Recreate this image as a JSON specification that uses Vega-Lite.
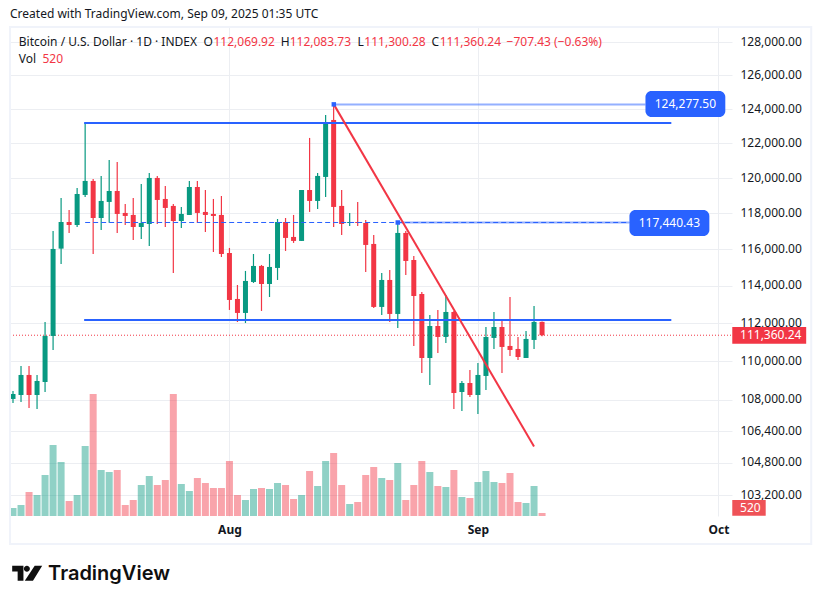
{
  "$schema": "https://vega.github.io/schema/vega-lite/v6.json",
  "width": 722,
  "height": 489,
  "autosize": "none",
  "padding": {"left": 10, "top": 27, "right": 90, "bottom": 88},
  "background": "white",
  "config": {"font": "Noto Sans", "view": {"stroke": null}},
  "title": {
    "text": "Created with TradingView.com, Sep 09, 2025 01:35 UTC",
    "anchor": "start",
    "frame": "group",
    "fontSize": 12,
    "fontWeight": "normal",
    "color": "#131722",
    "offset": 5
  },
  "datasets": {
    "candles": [
      {"date": "2025-07-05", "open": 108037, "high": 108446, "low": 107832, "close": 108292, "volume": 1384},
      {"date": "2025-07-06", "open": 108241, "high": 109745, "low": 107883, "close": 109277, "volume": 1903},
      {"date": "2025-07-07", "open": 109277, "high": 109745, "low": 107576, "close": 108241, "volume": 4152},
      {"date": "2025-07-08", "open": 108241, "high": 109277, "low": 107525, "close": 108965, "volume": 3633},
      {"date": "2025-07-09", "open": 108913, "high": 112063, "low": 108395, "close": 111322, "volume": 7093},
      {"date": "2025-07-10", "open": 111322, "high": 117019, "low": 110583, "close": 116023, "volume": 12283},
      {"date": "2025-07-11", "open": 116041, "high": 118870, "low": 115198, "close": 117519, "volume": 9342},
      {"date": "2025-07-12", "open": 117519, "high": 118194, "low": 116909, "close": 117352, "volume": 2595},
      {"date": "2025-07-13", "open": 117352, "high": 119434, "low": 117241, "close": 119095, "volume": 3633},
      {"date": "2025-07-14", "open": 119039, "high": 123183, "low": 118926, "close": 119835, "volume": 12110},
      {"date": "2025-07-15", "open": 119835, "high": 119949, "low": 115746, "close": 117744, "volume": 21106},
      {"date": "2025-07-16", "open": 117744, "high": 120121, "low": 117075, "close": 118701, "volume": 7958},
      {"date": "2025-07-17", "open": 118645, "high": 121035, "low": 117481, "close": 119264, "volume": 7612},
      {"date": "2025-07-18", "open": 119264, "high": 120921, "low": 116909, "close": 117969, "volume": 7958},
      {"date": "2025-07-19", "open": 118026, "high": 118532, "low": 117352, "close": 117857, "volume": 1903},
      {"date": "2025-07-20", "open": 117913, "high": 118870, "low": 116521, "close": 117241, "volume": 2768},
      {"date": "2025-07-21", "open": 117241, "high": 119663, "low": 116576, "close": 117463, "volume": 5363},
      {"date": "2025-07-22", "open": 117407, "high": 120292, "low": 116189, "close": 120006, "volume": 6920},
      {"date": "2025-07-23", "open": 120006, "high": 120121, "low": 117407, "close": 118757, "volume": 5363},
      {"date": "2025-07-24", "open": 118813, "high": 119549, "low": 117241, "close": 118307, "volume": 6228},
      {"date": "2025-07-25", "open": 118420, "high": 118532, "low": 114707, "close": 117575, "volume": 21106},
      {"date": "2025-07-26", "open": 117575, "high": 118363, "low": 117186, "close": 117969, "volume": 5536},
      {"date": "2025-07-27", "open": 117913, "high": 119835, "low": 117913, "close": 119492, "volume": 4325},
      {"date": "2025-07-28", "open": 119492, "high": 119835, "low": 117463, "close": 118026, "volume": 6574},
      {"date": "2025-07-29", "open": 118082, "high": 119320, "low": 116964, "close": 117913, "volume": 5709},
      {"date": "2025-07-30", "open": 117969, "high": 118813, "low": 115856, "close": 117857, "volume": 4844},
      {"date": "2025-07-31", "open": 117913, "high": 118982, "low": 115580, "close": 115746, "volume": 4844},
      {"date": "2025-08-01", "open": 115801, "high": 116078, "low": 112707, "close": 113243, "volume": 9515},
      {"date": "2025-08-02", "open": 113297, "high": 114053, "low": 112062, "close": 112546, "volume": 3633},
      {"date": "2025-08-03", "open": 112546, "high": 114816, "low": 112009, "close": 114271, "volume": 2768},
      {"date": "2025-08-04", "open": 114216, "high": 115746, "low": 114162, "close": 115089, "volume": 4671},
      {"date": "2025-08-05", "open": 115089, "high": 115143, "low": 112653, "close": 114107, "volume": 4844},
      {"date": "2025-08-06", "open": 114107, "high": 115746, "low": 113404, "close": 115034, "volume": 4671},
      {"date": "2025-08-07", "open": 114980, "high": 117688, "low": 114325, "close": 117519, "volume": 5709},
      {"date": "2025-08-08", "open": 117519, "high": 117744, "low": 115912, "close": 116632, "volume": 5363},
      {"date": "2025-08-09", "open": 116687, "high": 117913, "low": 116355, "close": 116466, "volume": 2941},
      {"date": "2025-08-10", "open": 116466, "high": 119320, "low": 116466, "close": 119320, "volume": 3633},
      {"date": "2025-08-11", "open": 119320, "high": 122311, "low": 118082, "close": 118701, "volume": 7785},
      {"date": "2025-08-12", "open": 118701, "high": 120292, "low": 118251, "close": 120121, "volume": 5190},
      {"date": "2025-08-13", "open": 120063, "high": 123655, "low": 118926, "close": 123242, "volume": 9515},
      {"date": "2025-08-14", "open": 123360, "high": 124277.5, "low": 117241, "close": 118363, "volume": 10900},
      {"date": "2025-08-15", "open": 118420, "high": 119320, "low": 116798, "close": 117407, "volume": 5363},
      {"date": "2025-08-16", "open": 117463, "high": 118026, "low": 117296, "close": 117519, "volume": 2076},
      {"date": "2025-08-17", "open": 117519, "high": 118645, "low": 117296, "close": 117463, "volume": 2422},
      {"date": "2025-08-18", "open": 117463, "high": 117632, "low": 114762, "close": 116244, "volume": 7093},
      {"date": "2025-08-19", "open": 116299, "high": 116798, "low": 112814, "close": 112868, "volume": 8477},
      {"date": "2025-08-20", "open": 112868, "high": 114707, "low": 112438, "close": 114325, "volume": 6574},
      {"date": "2025-08-21", "open": 114325, "high": 114871, "low": 112062, "close": 112492, "volume": 6228},
      {"date": "2025-08-22", "open": 112492, "high": 117463, "low": 111745, "close": 116909, "volume": 9169},
      {"date": "2025-08-23", "open": 116909, "high": 117019, "low": 114598, "close": 115362, "volume": 2768},
      {"date": "2025-08-24", "open": 115416, "high": 115635, "low": 110794, "close": 113458, "volume": 5363},
      {"date": "2025-08-25", "open": 113565, "high": 113673, "low": 109381, "close": 110162, "volume": 9515},
      {"date": "2025-08-26", "open": 110162, "high": 112438, "low": 108757, "close": 111850, "volume": 7612},
      {"date": "2025-08-27", "open": 111850, "high": 112707, "low": 110425, "close": 111269, "volume": 5190},
      {"date": "2025-08-28", "open": 111269, "high": 113512, "low": 110953, "close": 112599, "volume": 5017},
      {"date": "2025-08-29", "open": 112599, "high": 112653, "low": 107525, "close": 108344, "volume": 7958},
      {"date": "2025-08-30", "open": 108395, "high": 108965, "low": 107423, "close": 108861, "volume": 3287},
      {"date": "2025-08-31", "open": 108861, "high": 109537, "low": 108139, "close": 108241, "volume": 3114},
      {"date": "2025-09-01", "open": 108241, "high": 109902, "low": 107269, "close": 109277, "volume": 5882},
      {"date": "2025-09-02", "open": 109225, "high": 111797, "low": 108497, "close": 111269, "volume": 7785},
      {"date": "2025-09-03", "open": 111217, "high": 112599, "low": 110636, "close": 111797, "volume": 5882},
      {"date": "2025-09-04", "open": 111797, "high": 112224, "low": 109381, "close": 110741, "volume": 5709},
      {"date": "2025-09-05", "open": 110794, "high": 113404, "low": 110266, "close": 110583, "volume": 7439},
      {"date": "2025-09-06", "open": 110636, "high": 111269, "low": 110058, "close": 110213, "volume": 2422},
      {"date": "2025-09-07", "open": 110162, "high": 111586, "low": 110162, "close": 111164, "volume": 2249},
      {"date": "2025-09-08", "open": 111111, "high": 112921, "low": 110636, "close": 112067.67, "volume": 5190},
      {"date": "2025-09-09", "open": 112069.92, "high": 112083.73, "low": 111300.28, "close": 111360.24, "volume": 520}
    ],
    "frame": [
      {"date": "2025-07-04T15:01:00Z", "end": "2025-10-12T13:55:00Z", "top": 128934, "bottom": 100837}
    ],
    "drawings": [
      {"line": "high", "date": "2025-07-13T21:00:00Z", "price": 123182},
      {"line": "high", "date": "2025-09-25T03:00:00Z", "price": 123182},
      {"line": "low", "date": "2025-07-13T21:00:00Z", "price": 112168},
      {"line": "low", "date": "2025-09-25T03:00:00Z", "price": 112168},
      {"line": "tag1", "date": "2025-08-14T00:30:00Z", "price": 124277.5},
      {"line": "tag1", "date": "2025-09-21T21:36:00Z", "price": 124277.5},
      {"line": "tag2", "date": "2025-08-22T00:00:00Z", "price": 117491},
      {"line": "tag2", "date": "2025-09-19T21:36:00Z", "price": 117491},
      {"line": "dash", "date": "2025-07-14T00:00:00Z", "price": 117491},
      {"line": "dash", "date": "2025-09-19T21:36:00Z", "price": 117491},
      {"line": "last", "date": "2025-07-04T15:01:00Z", "price": 111360.24},
      {"line": "last", "date": "2025-10-02T16:41:00Z", "price": 111360.24},
      {"line": "trend", "date": "2025-08-14T00:30:00Z", "price": 124277.5},
      {"line": "trend", "date": "2025-09-08T00:00:00Z", "price": 105622}
    ],
    "anchors": [
      {"date": "2025-08-14T00:30:00Z", "price": 124277.5},
      {"date": "2025-08-22T00:00:00Z", "price": 117491}
    ],
    "tags": [
      {"date": "2025-09-21T21:36:00Z", "end": "2025-10-01T20:38:00Z", "top": 125070, "bottom": 123534},
      {"date": "2025-09-19T21:36:00Z", "end": "2025-09-29T20:53:00Z", "top": 118191, "bottom": 116739}
    ],
    "tagText": [
      {"date": "2025-09-26T21:07:00Z", "price": 124277.5, "label": "124,277.50"},
      {"date": "2025-09-24T21:07:00Z", "price": 117440.43, "label": "117,440.43"}
    ],
    "scaleTags": [
      {"date": "2025-10-02T17:31:00Z", "end": "2025-10-11T22:48:00Z", "top": 111797, "bottom": 110912, "kind": "price"},
      {"date": "2025-10-02T17:31:00Z", "end": "2025-10-06T21:36:00Z", "top": 102967, "bottom": 102201, "kind": "volume"}
    ],
    "scaleText": [
      {"date": "2025-10-03T16:48:00Z", "price": 111360.24, "label": "111,360.24"},
      {"date": "2025-10-03T16:48:00Z", "price": 102577, "label": "520"}
    ],
    "header": [
      {"date": "2025-07-05T17:17:00Z", "price": 128037, "label": "Bitcoin / U.S. Dollar · 1D · INDEX", "kind": "name"},
      {"date": "2025-07-28T18:33:00Z", "price": 128037, "label": "O", "kind": "name"},
      {"date": "2025-07-30T00:14:00Z", "price": 128037, "label": "112,069.92", "kind": "value"},
      {"date": "2025-08-07T10:00:00Z", "price": 128037, "label": "H", "kind": "name"},
      {"date": "2025-08-08T12:19:00Z", "price": 128037, "label": "112,083.73", "kind": "value"},
      {"date": "2025-08-16T23:38:00Z", "price": 128037, "label": "L", "kind": "name"},
      {"date": "2025-08-17T19:55:00Z", "price": 128037, "label": "111,300.28", "kind": "value"},
      {"date": "2025-08-26T04:48:00Z", "price": 128037, "label": "C", "kind": "name"},
      {"date": "2025-08-27T05:31:00Z", "price": 128037, "label": "111,360.24", "kind": "value"},
      {"date": "2025-09-04T13:41:00Z", "price": 128037, "label": "−707.43 (−0.63%)", "kind": "value"},
      {"date": "2025-07-05T17:17:00Z", "price": 126988, "label": "Vol", "kind": "name"},
      {"date": "2025-07-08T16:19:00Z", "price": 126988, "label": "520", "kind": "value"}
    ],
    "logoIcon": [{"date": "2025-07-06T18:29:00Z", "price": 99447}],
    "logoText": [{"date": "2025-07-09T09:00:00Z", "price": 99407, "label": "TradingView"}]
  },
  "encoding": {
    "x": {
      "field": "date",
      "type": "temporal",
      "title": null,
      "scale": {
        "type": "utc",
        "padding": 0,
        "domain": [
          {"year": 2025, "month": 7, "date": 4, "hours": 15, "minutes": 1, "utc": true},
          {"year": 2025, "month": 10, "date": 2, "hours": 16, "minutes": 41, "utc": true}
        ]
      },
      "axis": {
        "values": [
          {"year": 2025, "month": 8, "date": 1, "utc": true},
          {"year": 2025, "month": 9, "date": 1, "utc": true},
          {"year": 2025, "month": 10, "date": 1, "utc": true}
        ],
        "format": "%b",
        "domain": false,
        "ticks": false,
        "grid": true,
        "gridColor": "#eceef2",
        "labelPadding": 8,
        "labelFontSize": 12,
        "labelFontWeight": "bold",
        "labelColor": "#131722",
        "labelFlush": false,
        "labelOverlap": false
      }
    }
  },
  "layer": [
    {
      "encoding": {
        "y": {
          "field": "price",
          "type": "quantitative",
          "title": null,
          "scale": {"type": "log", "nice": false, "domain": [102190, 128934]},
          "axis": {
            "orient": "right",
            "values": [103200, 104800, 106400, 108000, 110000, 112000, 114000, 116000, 118000, 120000, 122000, 124000, 126000, 128000],
            "format": ",.2f",
            "domain": false,
            "ticks": false,
            "grid": true,
            "gridColor": "#eceef2",
            "labelPadding": 8,
            "labelOffset": -1,
            "labelFontSize": 12,
            "labelColor": "#131722",
            "labelOverlap": false,
            "labelBound": false
          }
        }
      },
      "layer": [
        {
          "data": {"name": "drawings"},
          "transform": [{"filter": "datum.line == 'last'"}],
          "mark": {"type": "line", "color": "#f23645", "strokeWidth": 1, "strokeDash": [1, 2]}
        }
      ]
    },
    {
      "data": {"name": "candles"},
      "mark": {"type": "bar", "size": 7, "opacity": 0.45},
      "encoding": {
        "y": {
          "field": "volume",
          "type": "quantitative",
          "axis": null,
          "scale": {"domain": [0, 84597]}
        },
        "color": {
          "condition": {"test": "datum.close >= datum.open", "value": "#089981"},
          "value": "#f23645"
        }
      }
    },
    {
      "encoding": {
        "y": {
          "field": "price",
          "type": "quantitative",
          "title": null,
          "scale": {"type": "log", "nice": false, "domain": [102190, 128934]},
          "axis": null
        }
      },
      "layer": [
        {
          "data": {"name": "candles"},
          "mark": {"type": "rule", "strokeWidth": 1.2},
          "encoding": {
            "y": {"field": "low"},
            "y2": {"field": "high"},
            "color": {
              "condition": {"test": "datum.close >= datum.open", "value": "#089981"},
              "value": "#f23645"
            }
          }
        },
        {
          "data": {"name": "candles"},
          "mark": {"type": "bar", "size": 5},
          "encoding": {
            "y": {"field": "open"},
            "y2": {"field": "close"},
            "color": {
              "condition": {"test": "datum.close >= datum.open", "value": "#089981"},
              "value": "#f23645"
            }
          }
        },
        {
          "data": {"name": "frame"},
          "mark": {"type": "rect", "fillOpacity": 0, "stroke": "#f0f3fa", "strokeWidth": 2},
          "encoding": {
            "x2": {"field": "end"},
            "y": {"field": "top"},
            "y2": {"field": "bottom"}
          }
        },
        {
          "data": {"name": "drawings"},
          "transform": [{"filter": "datum.line == 'tag1' || datum.line == 'tag2'"}],
          "mark": {"type": "line", "color": "#2962ff", "strokeWidth": 2, "opacity": 0.5},
          "encoding": {"detail": {"field": "line"}}
        },
        {
          "data": {"name": "drawings"},
          "transform": [{"filter": "datum.line == 'dash'"}],
          "mark": {"type": "line", "color": "#2962ff", "strokeWidth": 1, "strokeDash": [5, 3]}
        },
        {
          "data": {"name": "drawings"},
          "transform": [{"filter": "datum.line == 'high' || datum.line == 'low'"}],
          "mark": {"type": "line", "color": "#2962ff", "strokeWidth": 2},
          "encoding": {"detail": {"field": "line"}}
        },
        {
          "data": {"name": "drawings"},
          "transform": [{"filter": "datum.line == 'trend'"}],
          "mark": {"type": "line", "color": "#f23645", "strokeWidth": 2}
        },
        {
          "data": {"name": "anchors"},
          "mark": {"type": "square", "size": 20, "color": "#2962ff", "opacity": 1}
        },
        {
          "data": {"name": "tags"},
          "mark": {"type": "rect", "color": "#2962ff", "cornerRadius": 6},
          "encoding": {
            "x2": {"field": "end"},
            "y": {"field": "top"},
            "y2": {"field": "bottom"}
          }
        },
        {
          "data": {"name": "tagText"},
          "mark": {"type": "text", "color": "white", "fontSize": 12, "align": "center", "baseline": "middle"},
          "encoding": {"text": {"field": "label"}}
        },
        {
          "data": {"name": "scaleTags"},
          "mark": {"type": "rect"},
          "encoding": {
            "x2": {"field": "end"},
            "y": {"field": "top"},
            "y2": {"field": "bottom"},
            "color": {
              "condition": {"test": "datum.kind == 'price'", "value": "#f23645"},
              "value": "#ef5257"
            }
          }
        },
        {
          "data": {"name": "scaleText"},
          "mark": {"type": "text", "color": "white", "fontSize": 12, "align": "left", "baseline": "middle"},
          "encoding": {"text": {"field": "label"}}
        },
        {
          "data": {"name": "header"},
          "mark": {"type": "text", "fontSize": 12, "align": "left", "baseline": "middle"},
          "encoding": {
            "text": {"field": "label"},
            "color": {
              "condition": {"test": "datum.kind == 'value'", "value": "#f23645"},
              "value": "#131722"
            }
          }
        },
        {
          "data": {"name": "logoIcon"},
          "mark": {
            "type": "point",
            "filled": true,
            "opacity": 1,
            "color": "#0f0f0f",
            "size": 900,
            "shape": "M-1 -.5L-.25 -.5L-.25 .5L-.636 .5L-.636 -.114L-1 -.114ZM-.22 -.295A.2 .2 0 1 1 .18 -.295A.2 .2 0 1 1 -.22 -.295ZM.5 -.5L1 -.5L.386 .5L-.159 .5Z"
          }
        },
        {
          "data": {"name": "logoText"},
          "mark": {"type": "text", "font": "Inter", "fontSize": 20, "fontWeight": 600, "color": "#0f0f0f", "align": "left", "baseline": "middle"},
          "encoding": {"text": {"field": "label"}}
        }
      ]
    }
  ],
  "resolve": {"scale": {"y": "independent"}, "axis": {"y": "independent"}}
}
